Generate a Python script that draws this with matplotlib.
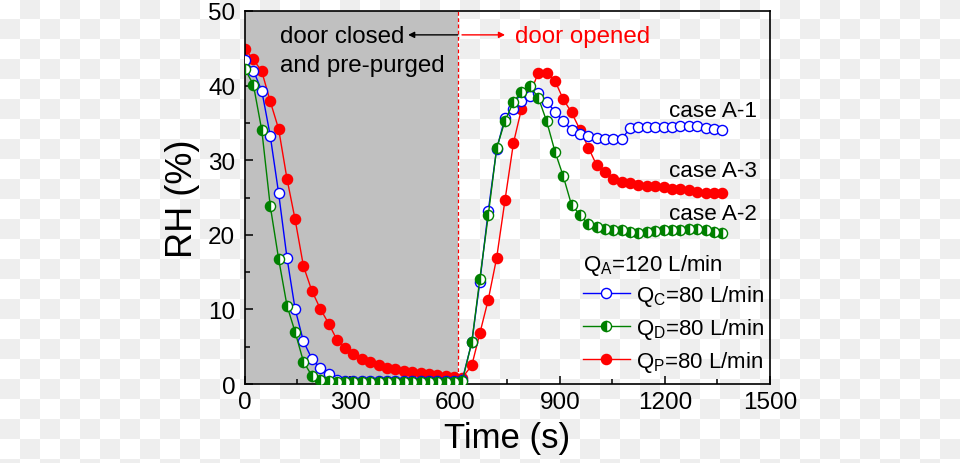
import numpy as np
import matplotlib
matplotlib.use("Agg")
import matplotlib.pyplot as plt
from matplotlib.lines import Line2D

plt.rcParams['font.family'] = ['Liberation Sans', 'DejaVu Sans']
plt.rcParams['mathtext.fontset'] = 'custom'
plt.rcParams['mathtext.rm'] = 'Liberation Sans'
plt.rcParams['mathtext.it'] = 'Liberation Sans'

# ---------------- data ----------------
t_c = [0, 24, 48, 72, 96, 120, 143, 167, 191, 215, 239, 263, 286, 310, 334, 358, 382, 406,
       430, 454, 478, 502, 526, 549, 573, 597, 621, 648, 671, 695, 719, 743, 767, 790, 814,
       838, 862, 886, 909, 933, 957, 981, 1005, 1029, 1052, 1076, 1100, 1124, 1148, 1172,
       1196, 1220, 1244, 1268, 1292, 1316, 1340, 1364]
rh_c = [43.4, 42.0, 39.3, 33.3, 25.6, 16.9, 10.1, 5.7, 3.4, 2.1, 1.3, 0.6, 0.4, 0.35, 0.35,
        0.35, 0.35, 0.35, 0.35, 0.35, 0.35, 0.35, 0.35, 0.35, 0.35, 0.4, 0.6, 5.6, 13.7,
        23.2, 31.5, 35.7, 36.9, 38.0, 38.6, 39.0, 37.8, 36.5, 35.2, 34.1, 33.5, 33.2, 33.0,
        32.9, 32.8, 32.8, 34.3, 34.5, 34.5, 34.5, 34.5, 34.5, 34.6, 34.6, 34.6, 34.3, 34.2,
        34.1]

t_d = t_c
rh_d = [42.2, 40.1, 34.0, 23.9, 16.8, 10.5, 7.0, 3.0, 1.1, 0.6, 0.4, 0.3, 0.3, 0.3, 0.3,
        0.3, 0.3, 0.3, 0.3, 0.3, 0.3, 0.3, 0.3, 0.3, 0.3, 0.3, 0.45, 5.6, 14.1, 22.6, 31.6,
        35.3, 37.8, 39.2, 39.9, 38.4, 35.2, 31.1, 27.9, 24.0, 22.7, 21.4, 21.0, 20.8, 20.7,
        20.6, 20.4, 20.3, 20.4, 20.5, 20.6, 20.6, 20.7, 20.8, 20.8, 20.6, 20.4, 20.3]

t_p = t_c
rh_p = [44.9, 43.5, 41.9, 37.9, 34.2, 27.5, 22.1, 15.8, 12.5, 10.1, 8.1, 5.9, 4.8, 4.0, 3.35,
        3.0, 2.6, 2.2, 1.97, 1.8, 1.56, 1.43, 1.3, 1.2, 1.1, 0.98, 0.85, 2.5, 6.8, 11.3, 16.9,
        24.7, 32.3, 36.9, 38.9, 41.7, 41.7, 40.6, 38.2, 36.4, 34.1, 31.7, 29.3, 28.4, 27.5,
        27.1, 26.9, 26.7, 26.6, 26.5, 26.4, 26.2, 26.1, 26.0, 25.8, 25.6, 25.6, 25.6]

door_open_t = 610
series_labels = [r"Q$_\mathrm{C}$=80 L/min", r"Q$_\mathrm{D}$=80 L/min", r"Q$_\mathrm{P}$=80 L/min"]
header_label = r"Q$_\mathrm{A}$=120 L/min"
case_labels = ["case A-1", "case A-3", "case A-2"]
case_pos = [(1463, 36.6), (1463, 28.6), (1463, 22.8)]
x_ticks = [0, 300, 600, 900, 1200, 1500]
y_ticks = [0, 10, 20, 30, 40, 50]

# ---------------- figure ----------------
W, H = 960, 464
fig = plt.figure(figsize=(W / 100, H / 100), dpi=100)

# checkerboard background (transparent-look)
bg = fig.add_axes([0, 0, 1, 1], zorder=-10)
ii, jj = np.indices((24, 48))
board = ((ii + jj) % 2).astype(float)
bg.imshow(board, cmap=matplotlib.colors.ListedColormap(['#ffffff', '#eeeeee']),
          extent=[0, 960, 480, 0], interpolation='nearest', aspect='auto')
bg.set_xlim(0, 960)
bg.set_ylim(464, 0)
bg.axis('off')

ax = fig.add_axes([245 / W, 1 - 385 / H, (770 - 245) / W, (385 - 12) / H])
ax.set_facecolor('none')

ax.axvspan(0, door_open_t, color='#c0c0c0', zorder=0, lw=0)
ax.axvline(door_open_t, color='red', ls=(0, (3, 2)), lw=0.9, zorder=1)

ms = 7.3
ax.plot(t_c, rh_c, '-o', color='#0000ff', lw=1.0, ms=ms, mfc='white', mec='#0000ff',
        mew=1.0, zorder=3)
ax.plot(t_d, rh_d, '-o', color='#008000', lw=1.0, ms=ms, mfc='#008000', mec='#008000',
        mfcalt='white', fillstyle='left', mew=1.0, zorder=4)
ax.plot(t_p, rh_p, '-o', color='#ff0000', lw=1.0, ms=ms, mfc='#ff0000', mec='#ff0000',
        mew=1.0, zorder=2)

ax.set_xlim(0, 1500)
ax.set_ylim(0, 50)
ax.set_xticks(x_ticks)
ax.set_yticks(y_ticks)
ax.set_xticks(np.arange(150, 1500, 300), minor=True)
ax.set_yticks(np.arange(5, 50, 10), minor=True)
ax.tick_params(which='both', direction='in', top=False, right=False, width=1.1,
               labelsize=17.5, colors='black')
ax.tick_params(axis='y', which='major', length=6, pad=7)
ax.tick_params(axis='y', which='minor', length=3.5)
ax.tick_params(axis='x', which='major', length=6, pad=5)
ax.tick_params(axis='x', which='minor', length=3.5)
for s in ax.spines.values():
    s.set_linewidth(1.2)

ax.set_xlabel('Time (s)', fontsize=25, labelpad=6)
ax.set_ylabel('RH (%)', fontsize=26, labelpad=6)

# annotations
ax.text(100, 46.6, 'door closed', fontsize=17.4, ha='left', va='center', zorder=6)
ax.text(100, 42.8, 'and pre-purged', fontsize=17.4, ha='left', va='center', zorder=6)
ax.annotate('', xy=(466, 46.8), xytext=(608, 46.8),
            arrowprops=dict(arrowstyle='-|>', color='black', lw=1.0, mutation_scale=9,
                            shrinkA=0, shrinkB=0), zorder=6)
ax.annotate('', xy=(743, 46.8), xytext=(620, 46.8),
            arrowprops=dict(arrowstyle='-|>', color='red', lw=1.0, mutation_scale=9,
                            shrinkA=0, shrinkB=0), zorder=6)
ax.text(771, 46.6, 'door opened', fontsize=17.4, color='red', ha='left', va='center', zorder=6)

for lab, (x, y) in zip(case_labels, case_pos):
    ax.text(x, y, lab, fontsize=16.2, ha='right', va='center', zorder=6)

ax.text(966, 16.0, header_label, fontsize=16, ha='left', va='center', zorder=6)

handles = [
    Line2D([], [], color='#0000ff', lw=1.0, marker='o', ms=ms, mfc='white', mec='#0000ff'),
    Line2D([], [], color='#008000', lw=1.0, marker='o', ms=ms, mfc='#008000', mec='#008000',
           mfcalt='white', fillstyle='left'),
    Line2D([], [], color='#ff0000', lw=1.0, marker='o', ms=ms, mfc='#ff0000', mec='#ff0000'),
]
leg = ax.legend(handles, series_labels, loc='upper left', bbox_to_anchor=(0.644, 0.272),
                frameon=False, fontsize=16, handlelength=2.1, handletextpad=0.3,
                labelspacing=0.36, borderpad=0, borderaxespad=0)

fig.savefig('out.png', dpi=100)
